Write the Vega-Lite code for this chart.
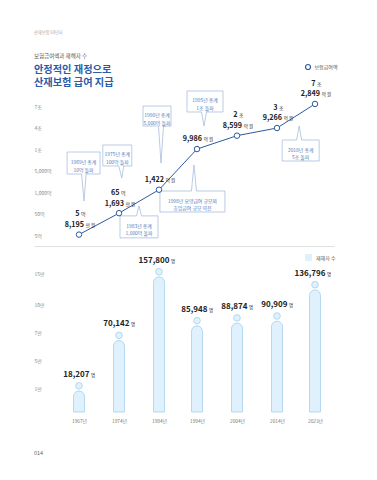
{
  "$schema": "https://vega.github.io/schema/vega-lite/v6.json",
  "background": "white",
  "padding": {"left": 34, "top": 31, "right": 10, "bottom": 10},
  "title": {"text": "산재보험 60년사", "anchor": "start", "fontSize": 4.2, "color": "#aaaaaa", "fontWeight": "normal", "offset": 19, "font": "Noto Sans CJK KR"},
  "config": {
    "font": "Noto Sans CJK KR",
    "view": {"stroke": null},
    "axis": {"grid": false, "domain": false, "ticks": false, "tickSize": 0, "labelFont": "Noto Sans CJK KR", "labelColor": "#888888", "labelFontSize": 5, "title": null, "labelFlush": false, "labelOverlap": false, "tickCount": 20},
    "concat": {"spacing": 8}
  },
  "resolve": {"scale": {"fill": "independent", "stroke": "independent", "shape": "independent"}, "legend": {"fill": "independent", "stroke": "independent", "shape": "independent"}},
  "datasets": {
    "payout": [
      {"year": 1967, "value": 5.8195, "top_num": "5", "top_unit": "억", "num": "8,195", "unit": "만 원"},
      {"year": 1974, "value": 65.1693, "top_num": "65", "top_unit": "억", "num": "1,693", "unit": "만 원"},
      {"year": 1984, "value": 1422, "top_num": "", "top_unit": "", "num": "1,422", "unit": "억 원"},
      {"year": 1994, "value": 9986, "top_num": "", "top_unit": "", "num": "9,986", "unit": "억 원"},
      {"year": 2004, "value": 28599, "top_num": "2", "top_unit": "조", "num": "8,599", "unit": "억 원"},
      {"year": 2014, "value": 39266, "top_num": "3", "top_unit": "조", "num": "9,266", "unit": "억 원"},
      {"year": 2023, "value": 72849, "top_num": "7", "top_unit": "조", "num": "2,849", "unit": "억 원"}
    ],
    "notes": [
      {"id": "c1969", "x": 1967.8, "y": 6740, "text": "1969년 총계\n10억 돌파"},
      {"id": "c1975", "x": 1973.7, "y": 8490, "text": "1975년 총계\n100억 돌파"},
      {"id": "c1990", "x": 1983.5, "y": 56000, "text": "1990년 총계\n5,000억 돌파"},
      {"id": "c1983", "x": 1979, "y": 22, "text": "1983년 총계\n1,000억 돌파"},
      {"id": "c1995", "x": 1996, "y": 76300, "text": "1995년 총계\n1조 돌파"},
      {"id": "c1998", "x": 1992.8, "y": 580, "text": "1998년 요양급여 규모와\n휴업급여 규모 역전"},
      {"id": "c2018", "x": 2019.6, "y": 9650, "text": "2018년 총계\n5조 돌파"}
    ],
    "victims": [
      {"year": 1967, "count": 18207},
      {"year": 1974, "count": 70142},
      {"year": 1984, "count": 157800},
      {"year": 1994, "count": 85948},
      {"year": 2004, "count": 88874},
      {"year": 2014, "count": 90909},
      {"year": 2023, "count": 136796}
    ]
  },
  "vconcat": [
    {
      "width": 300,
      "height": 148,
      "title": {"text": "보험급여액과 재해자 수", "subtitle": ["안정적인 재정으로", "산재보험 급여 지급"], "anchor": "start", "fontSize": 5.5, "fontWeight": "normal", "color": "#555555", "subtitleFontSize": 10.2, "subtitleFontWeight": "bold", "subtitleColor": "#2b5ca8", "subtitleLineHeight": 13.5, "subtitlePadding": 5, "offset": -25, "subtitleFont": "Noto Sans CJK KR"},
      "layer": [
        {
          "data": {"name": "notes"},
          "mark": {"type": "point", "filled": true, "fill": "white", "stroke": "#9db5d8", "strokeWidth": 0.7, "size": 4, "opacity": 1},
          "encoding": {
            "x": {"field": "x", "type": "quantitative", "scale": {"domain": [1959, 1967, 1974, 1984, 1994, 2004, 2014, 2023, 2028], "range": [0, 45, 85, 125, 163, 203, 243, 281, 300], "nice": false, "zero": false}, "axis": {"labels": false, "domain": true, "domainColor": "#d8d8d8", "domainWidth": 0.8, "ticks": false}},
            "y": {"field": "y", "type": "quantitative", "scale": {"domain": [5, 50, 1000, 5000, 10000, 40000, 70000], "range": [137, 115.5, 94, 72.5, 51, 29.5, 8], "nice": false, "zero": false}, "axis": {"values": [5, 50, 1000, 5000, 10000, 40000, 70000], "tickCount": 20, "labelExpr": "datum.value >= 10000 ? (datum.value / 10000) + '조' : format(datum.value, ',') + '억'", "labelAlign": "left", "labelPadding": 0, "labelBaseline": "middle", "labelOverlap": false}},
            "shape": {"field": "id", "type": "nominal", "legend": null, "scale": {
              "domain": ["c1969", "c1975", "c1990", "c1983", "c1995", "c1998", "c2018"],
              "range": [
                "M-16.5,-11H16.5V11H2.5L0.5,38L-2,11H-16.5Z",
                "M-14.5,-10.5H14.5V10.5H6.5L4.5,22.5L1.5,10.5H-14.5Z",
                "M-14,-10H14V10H6.5L4,47L1.5,10H-14Z",
                "M-19,-11H-2.5L0,-21L2.5,-11H19V11H-19Z",
                "M-18,-10.5H18V10.5H1.5L-1,24.5L-3.5,10.5H-18Z",
                "M-32.5,-10.5H-1L1.5,-36.5L4,-10.5H32.5V10.5H-32.5Z",
                "M-18.5,-10.5H-4L-1.5,-24.5L1,-10.5H18.5V10.5H-18.5Z"
              ]}}
          }
        },
        {
          "data": {"name": "notes"},
          "mark": {"type": "text", "lineBreak": "\n", "fontSize": 4.9, "color": "#4e7dbd", "lineHeight": 7.5, "baseline": "middle", "align": "center"},
          "encoding": {
            "x": {"field": "x", "type": "quantitative", "scale": {"domain": [1959, 1967, 1974, 1984, 1994, 2004, 2014, 2023, 2028], "range": [0, 45, 85, 125, 163, 203, 243, 281, 300], "nice": false, "zero": false}},
            "y": {"field": "y", "type": "quantitative", "scale": {"domain": [5, 50, 1000, 5000, 10000, 40000, 70000], "range": [137, 115.5, 94, 72.5, 51, 29.5, 8], "nice": false, "zero": false}},
            "text": {"field": "text", "type": "nominal"}
          }
        },
        {
          "data": {"name": "payout"},
          "mark": {"type": "line", "color": "#2c5aa0", "strokeWidth": 1},
          "encoding": {
            "x": {"field": "year", "type": "quantitative", "scale": {"domain": [1959, 1967, 1974, 1984, 1994, 2004, 2014, 2023, 2028], "range": [0, 45, 85, 125, 163, 203, 243, 281, 300], "nice": false, "zero": false}},
            "y": {"field": "value", "type": "quantitative", "scale": {"domain": [5, 50, 1000, 5000, 10000, 40000, 70000], "range": [137, 115.5, 94, 72.5, 51, 29.5, 8], "nice": false, "zero": false}}
          }
        },
        {
          "data": {"name": "payout"},
          "mark": {"type": "point", "filled": true, "fill": "white", "size": 30, "strokeWidth": 1, "opacity": 1},
          "encoding": {
            "x": {"field": "year", "type": "quantitative", "scale": {"domain": [1959, 1967, 1974, 1984, 1994, 2004, 2014, 2023, 2028], "range": [0, 45, 85, 125, 163, 203, 243, 281, 300], "nice": false, "zero": false}},
            "y": {"field": "value", "type": "quantitative", "scale": {"domain": [5, 50, 1000, 5000, 10000, 40000, 70000], "range": [137, 115.5, 94, 72.5, 51, 29.5, 8], "nice": false, "zero": false}},
            "stroke": {"datum": "보험급여액", "type": "nominal", "scale": {"range": ["#2c5aa0"]}, "legend": {"orient": "none", "legendX": 270.5, "legendY": -34.5, "title": null, "symbolType": "circle", "symbolSize": 25, "symbolStrokeWidth": 1.2, "labelFontSize": 5, "labelColor": "#555555", "labelOffset": 3, "padding": 0, "labelFont": "Noto Sans CJK KR", "encode": {"symbols": {"update": {"fill": {"value": "white"}}}}}}
          }
        },
        {
          "data": {"name": "payout"},
          "mark": {"type": "text", "align": "right", "dx": 5, "dy": -7.6, "fontSize": 7.2, "fontWeight": "bold", "color": "#222222", "baseline": "alphabetic"},
          "encoding": {
            "x": {"field": "year", "type": "quantitative", "scale": {"domain": [1959, 1967, 1974, 1984, 1994, 2004, 2014, 2023, 2028], "range": [0, 45, 85, 125, 163, 203, 243, 281, 300], "nice": false, "zero": false}},
            "y": {"field": "value", "type": "quantitative", "scale": {"domain": [5, 50, 1000, 5000, 10000, 40000, 70000], "range": [137, 115.5, 94, 72.5, 51, 29.5, 8], "nice": false, "zero": false}},
            "text": {"field": "num", "type": "nominal"}
          }
        },
        {
          "data": {"name": "payout"},
          "mark": {"type": "text", "align": "left", "dx": 6.8, "dy": -7.6, "fontSize": 4.5, "color": "#222222", "baseline": "alphabetic"},
          "encoding": {
            "x": {"field": "year", "type": "quantitative", "scale": {"domain": [1959, 1967, 1974, 1984, 1994, 2004, 2014, 2023, 2028], "range": [0, 45, 85, 125, 163, 203, 243, 281, 300], "nice": false, "zero": false}},
            "y": {"field": "value", "type": "quantitative", "scale": {"domain": [5, 50, 1000, 5000, 10000, 40000, 70000], "range": [137, 115.5, 94, 72.5, 51, 29.5, 8], "nice": false, "zero": false}},
            "text": {"field": "unit", "type": "nominal"}
          }
        },
        {
          "data": {"name": "payout"},
          "mark": {"type": "text", "align": "right", "dx": 0.5, "dy": -18.2, "fontSize": 7.2, "fontWeight": "bold", "color": "#222222", "baseline": "alphabetic"},
          "encoding": {
            "x": {"field": "year", "type": "quantitative", "scale": {"domain": [1959, 1967, 1974, 1984, 1994, 2004, 2014, 2023, 2028], "range": [0, 45, 85, 125, 163, 203, 243, 281, 300], "nice": false, "zero": false}},
            "y": {"field": "value", "type": "quantitative", "scale": {"domain": [5, 50, 1000, 5000, 10000, 40000, 70000], "range": [137, 115.5, 94, 72.5, 51, 29.5, 8], "nice": false, "zero": false}},
            "text": {"field": "top_num", "type": "nominal"}
          }
        },
        {
          "data": {"name": "payout"},
          "mark": {"type": "text", "align": "left", "dx": 2, "dy": -18.2, "fontSize": 5, "color": "#222222", "baseline": "alphabetic"},
          "encoding": {
            "x": {"field": "year", "type": "quantitative", "scale": {"domain": [1959, 1967, 1974, 1984, 1994, 2004, 2014, 2023, 2028], "range": [0, 45, 85, 125, 163, 203, 243, 281, 300], "nice": false, "zero": false}},
            "y": {"field": "value", "type": "quantitative", "scale": {"domain": [5, 50, 1000, 5000, 10000, 40000, 70000], "range": [137, 115.5, 94, 72.5, 51, 29.5, 8], "nice": false, "zero": false}},
            "text": {"field": "top_unit", "type": "nominal"}
          }
        }
      ]
    },
    {
      "width": 300,
      "height": 158,
      "title": {"text": "014", "orient": "bottom", "anchor": "start", "fontSize": 5.5, "color": "#666666", "fontWeight": "normal", "offset": 28},
      "data": {"name": "victims"},
      "layer": [
        {
          "mark": {"type": "bar", "orient": "vertical", "width": 11, "cornerRadiusTopLeft": 5.5, "cornerRadiusTopRight": 5.5, "stroke": "#a6d0ec", "strokeWidth": 0.8, "yOffset": 8.7},
          "encoding": {
            "x": {"field": "year", "type": "quantitative", "scale": {"domain": [1959, 1967, 1974, 1984, 1994, 2004, 2014, 2023, 2028], "range": [0, 45, 85, 125, 163, 203, 243, 281, 300], "nice": false, "zero": false}, "axis": {"values": [1967, 1974, 1984, 1994, 2004, 2014, 2023], "tickCount": 20, "labelExpr": "datum.value + '년'", "labelPadding": 6, "labelColor": "#777777", "labelFontSize": 4.8, "labelOverlap": false}},
            "y": {"field": "count", "type": "quantitative", "scale": {"domain": [0, 10000, 50000, 70000, 100000, 150000], "range": [158, 134, 106, 78, 50, 19], "nice": false, "zero": false}, "axis": {"values": [10000, 50000, 70000, 100000, 150000], "tickCount": 20, "labelExpr": "(datum.value / 10000) + '만'", "labelAlign": "left", "labelPadding": 0, "labelBaseline": "middle", "labelOverlap": false}},
            "y2": {"datum": 0},
            "fill": {"datum": "재해자 수", "type": "nominal", "scale": {"range": ["#dff1fc"]}, "legend": {"orient": "none", "legendX": 271, "legendY": 0, "title": null, "symbolType": "square", "symbolSize": 49, "labelFontSize": 5, "labelColor": "#555555", "labelOffset": 4, "padding": 0, "symbolStrokeWidth": 0, "labelFont": "Noto Sans CJK KR", "encode": {"symbols": {"update": {"fill": {"value": "#aadcf4"}, "stroke": {"value": "#aadcf4"}}}}}}
          }
        },
        {
          "mark": {"type": "point", "shape": "circle", "filled": true, "fill": "#dff1fc", "stroke": "#a6d0ec", "strokeWidth": 0.8, "size": 44, "yOffset": 3.5, "opacity": 1},
          "encoding": {
            "x": {"field": "year", "type": "quantitative", "scale": {"domain": [1959, 1967, 1974, 1984, 1994, 2004, 2014, 2023, 2028], "range": [0, 45, 85, 125, 163, 203, 243, 281, 300], "nice": false, "zero": false}},
            "y": {"field": "count", "type": "quantitative", "scale": {"domain": [0, 10000, 50000, 70000, 100000, 150000], "range": [158, 134, 106, 78, 50, 19], "nice": false, "zero": false}}
          }
        },
        {
          "mark": {"type": "text", "align": "right", "dx": 10.5, "dy": -5.5, "fontSize": 8, "fontWeight": "bold", "color": "#222222", "baseline": "alphabetic"},
          "encoding": {
            "x": {"field": "year", "type": "quantitative", "scale": {"domain": [1959, 1967, 1974, 1984, 1994, 2004, 2014, 2023, 2028], "range": [0, 45, 85, 125, 163, 203, 243, 281, 300], "nice": false, "zero": false}},
            "y": {"field": "count", "type": "quantitative", "scale": {"domain": [0, 10000, 50000, 70000, 100000, 150000], "range": [158, 134, 106, 78, 50, 19], "nice": false, "zero": false}},
            "text": {"field": "count", "type": "quantitative", "format": ","}
          }
        },
        {
          "mark": {"type": "text", "align": "left", "dx": 12, "dy": -5.5, "fontSize": 4.5, "color": "#222222", "baseline": "alphabetic", "text": "명"},
          "encoding": {
            "x": {"field": "year", "type": "quantitative", "scale": {"domain": [1959, 1967, 1974, 1984, 1994, 2004, 2014, 2023, 2028], "range": [0, 45, 85, 125, 163, 203, 243, 281, 300], "nice": false, "zero": false}},
            "y": {"field": "count", "type": "quantitative", "scale": {"domain": [0, 10000, 50000, 70000, 100000, 150000], "range": [158, 134, 106, 78, 50, 19], "nice": false, "zero": false}}
          }
        }
      ]
    }
  ]
}
